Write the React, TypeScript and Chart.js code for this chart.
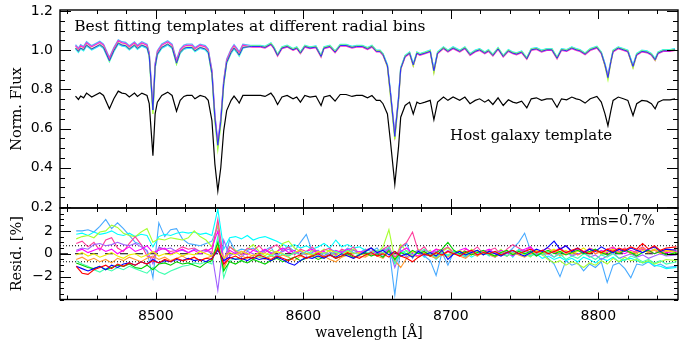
import React, { useEffect, useRef } from 'react';
import { Chart, registerables } from 'chart.js';
Chart.register(...registerables);

// ---------- top panel: spectra ----------
const wavelength = [
  8445.5, 8447.5, 8449, 8451, 8453, 8456.5, 8462, 8464.5, 8468.5, 8471.5,
  8474.5, 8477, 8479.5, 8482, 8485.5, 8487.5, 8490.5, 8494, 8495.5, 8498,
  8499.5, 8501, 8504, 8508, 8511, 8514, 8516.5, 8519, 8521, 8524.5,
  8526.5, 8530, 8533.5, 8535.5, 8538, 8540, 8542, 8544, 8546, 8548,
  8551, 8553, 8555, 8556.5, 8559, 8565, 8571, 8574, 8578, 8580,
  8582.5, 8585.5, 8589, 8593, 8595.5, 8598, 8601, 8604.5, 8608.5, 8612,
  8614, 8618, 8621.5, 8625, 8629, 8633, 8636, 8640, 8643.5, 8646.5,
  8649.5, 8652, 8654, 8657, 8659, 8662, 8664.5, 8666, 8669, 8672,
  8674.5, 8677, 8679, 8682.5, 8686, 8688.5, 8691, 8695, 8698, 8701.5,
  8706, 8709.5, 8713, 8716.5, 8719.5, 8723, 8725.5, 8728.5, 8732, 8735.5,
  8739, 8742, 8744.5, 8748, 8751.5, 8754.5, 8758, 8761.5, 8765, 8768.5,
  8772, 8775, 8778.5, 8782, 8785, 8787.5, 8791, 8794.5, 8799, 8802,
  8804.5, 8806.5, 8808.5, 8810, 8813.5, 8817, 8820, 8823.5, 8826, 8829.5,
  8833, 8836, 8838.5, 8840.5, 8844, 8848.5, 8852,
];

const hostTemplate = [
  0.766, 0.749, 0.766, 0.757, 0.781, 0.761, 0.783, 0.769, 0.701, 0.752,
  0.791, 0.781, 0.778, 0.761, 0.781, 0.764, 0.781, 0.769, 0.727, 0.462,
  0.675, 0.735, 0.769, 0.786, 0.769, 0.689, 0.744, 0.764, 0.769, 0.769,
  0.752, 0.769, 0.761, 0.744, 0.641, 0.420, 0.282, 0.400, 0.590, 0.692,
  0.744, 0.766, 0.747, 0.730, 0.769, 0.769, 0.769, 0.764, 0.781, 0.761,
  0.723, 0.761, 0.769, 0.752, 0.761, 0.735, 0.769, 0.761, 0.766, 0.718,
  0.761, 0.769, 0.740, 0.774, 0.774, 0.764, 0.769, 0.769, 0.757, 0.769,
  0.744, 0.744, 0.727, 0.675, 0.538, 0.316, 0.504, 0.658, 0.718, 0.735,
  0.675, 0.735, 0.727, 0.735, 0.744, 0.645, 0.735, 0.761, 0.744, 0.761,
  0.744, 0.761, 0.727, 0.744, 0.752, 0.735, 0.747, 0.723, 0.757, 0.718,
  0.747, 0.735, 0.730, 0.740, 0.706, 0.752, 0.757, 0.744, 0.752, 0.752,
  0.709, 0.752, 0.747, 0.761, 0.752, 0.747, 0.730, 0.752, 0.764, 0.735,
  0.675, 0.615, 0.692, 0.744, 0.761, 0.752, 0.744, 0.667, 0.727, 0.744,
  0.740, 0.727, 0.701, 0.735, 0.747, 0.747, 0.752,
];

const fitSkyBlue = [
  1.028, 1.011, 1.028, 1.019, 1.043, 1.023, 1.045, 1.031, 0.963, 1.014,
  1.053, 1.043, 1.040, 1.023, 1.043, 1.026, 1.043, 1.031, 0.989, 0.710,
  0.932, 0.997, 1.031, 1.048, 1.031, 0.951, 1.006, 1.026, 1.031, 1.031,
  1.014, 1.031, 1.023, 1.006, 0.899, 0.672, 0.530, 0.652, 0.847, 0.954,
  1.006, 1.028, 1.009, 0.992, 1.031, 1.023, 1.023, 1.018, 1.035, 1.015,
  0.977, 1.015, 1.023, 1.006, 1.015, 0.989, 1.023, 1.015, 1.020, 0.972,
  1.015, 1.023, 0.994, 1.028, 1.028, 1.018, 1.023, 1.023, 1.011, 1.023,
  0.998, 0.998, 0.981, 0.924, 0.789, 0.575, 0.754, 0.909, 0.972, 0.989,
  0.929, 0.989, 0.981, 0.989, 0.998, 0.899, 0.989, 1.015, 0.998, 1.015,
  0.998, 1.015, 0.981, 0.998, 1.006, 0.989, 1.001, 0.977, 1.011, 0.972,
  1.001, 0.989, 0.984, 0.994, 0.960, 1.006, 1.011, 0.998, 1.006, 1.006,
  0.963, 1.006, 1.001, 1.015, 1.006, 1.001, 0.984, 1.006, 1.018, 0.989,
  0.929, 0.875, 0.946, 0.998, 1.015, 1.006, 0.998, 0.921, 0.981, 0.998,
  0.994, 0.981, 0.955, 0.989, 1.001, 1.001, 1.006,
];

const fitMagenta = [
  1.022, 1.005, 1.022, 1.013, 1.037, 1.017, 1.039, 1.025, 0.957, 1.008,
  1.047, 1.037, 1.034, 1.017, 1.037, 1.020, 1.037, 1.025, 0.983, 0.700,
  0.926, 0.991, 1.025, 1.042, 1.025, 0.945, 1.000, 1.020, 1.025, 1.025,
  1.008, 1.025, 1.017, 1.000, 0.893, 0.666, 0.520, 0.646, 0.841, 0.948,
  1.000, 1.022, 1.003, 0.986, 1.025, 1.016, 1.016, 1.011, 1.028, 1.008,
  0.970, 1.008, 1.016, 0.999, 1.008, 0.982, 1.016, 1.008, 1.013, 0.965,
  1.008, 1.016, 0.987, 1.021, 1.021, 1.011, 1.016, 1.016, 1.004, 1.016,
  0.991, 0.991, 0.974, 0.917, 0.782, 0.565, 0.747, 0.902, 0.965, 0.982,
  0.922, 0.982, 0.974, 0.982, 0.991, 0.892, 0.982, 1.008, 0.991, 1.008,
  0.991, 1.008, 0.974, 0.991, 0.999, 0.982, 0.994, 0.970, 1.004, 0.965,
  0.994, 0.982, 0.977, 0.987, 0.953, 0.999, 1.004, 0.991, 0.999, 0.999,
  0.956, 0.999, 0.994, 1.008, 0.999, 0.994, 0.977, 0.999, 1.011, 0.982,
  0.922, 0.865, 0.939, 0.991, 1.008, 0.999, 0.991, 0.914, 0.974, 0.991,
  0.987, 0.974, 0.948, 0.982, 0.994, 0.994, 0.999,
];

const fitYellowGreen = [
  1.012, 0.995, 1.012, 1.003, 1.027, 1.007, 1.029, 1.015, 0.945, 0.998,
  1.037, 1.027, 1.024, 1.007, 1.027, 1.010, 1.027, 1.015, 0.973, 0.675,
  0.910, 0.981, 1.015, 1.032, 1.015, 0.930, 0.990, 1.010, 1.015, 1.015,
  0.998, 1.015, 1.007, 0.990, 0.875, 0.640, 0.495, 0.620, 0.825, 0.936,
  0.990, 1.012, 0.993, 0.976, 1.015, 1.021, 1.021, 1.016, 1.033, 1.013,
  0.975, 1.013, 1.021, 1.004, 1.013, 0.987, 1.021, 1.013, 1.018, 0.970,
  1.013, 1.021, 0.992, 1.026, 1.026, 1.016, 1.021, 1.021, 1.009, 1.021,
  0.996, 0.996, 0.979, 0.915, 0.770, 0.545, 0.740, 0.905, 0.970, 0.987,
  0.920, 0.987, 0.979, 0.987, 0.996, 0.885, 0.987, 1.013, 0.996, 1.013,
  0.996, 1.013, 0.979, 0.996, 1.004, 0.987, 0.999, 0.975, 1.009, 0.970,
  0.999, 0.987, 0.982, 0.992, 0.958, 1.004, 1.009, 0.996, 1.004, 1.004,
  0.961, 1.004, 0.999, 1.013, 1.004, 0.999, 0.982, 1.004, 1.016, 0.987,
  0.920, 0.850, 0.940, 0.996, 1.013, 1.004, 0.996, 0.910, 0.979, 0.996,
  0.992, 0.979, 0.950, 0.987, 0.999, 0.999, 1.004,
];

const fitCyan = [
  1.006, 0.989, 1.006, 0.997, 1.021, 1.001, 1.023, 1.009, 0.941, 0.992,
  1.031, 1.021, 1.018, 1.001, 1.021, 1.004, 1.021, 1.009, 0.967, 0.690,
  0.910, 0.975, 1.009, 1.026, 1.009, 0.929, 0.984, 1.004, 1.009, 1.009,
  0.992, 1.009, 1.001, 0.984, 0.877, 0.650, 0.510, 0.630, 0.825, 0.932,
  0.984, 1.006, 0.987, 0.970, 1.009, 1.025, 1.025, 1.020, 1.037, 1.017,
  0.979, 1.017, 1.025, 1.008, 1.017, 0.991, 1.025, 1.017, 1.022, 0.974,
  1.017, 1.025, 0.996, 1.030, 1.030, 1.020, 1.025, 1.025, 1.013, 1.025,
  1.000, 1.000, 0.983, 0.926, 0.791, 0.560, 0.756, 0.911, 0.974, 0.991,
  0.931, 0.991, 0.983, 0.991, 1.000, 0.901, 0.991, 1.017, 1.000, 1.017,
  1.000, 1.017, 0.983, 1.000, 1.008, 0.991, 1.003, 0.979, 1.013, 0.974,
  1.003, 0.991, 0.986, 0.996, 0.962, 1.008, 1.013, 1.000, 1.008, 1.008,
  0.965, 1.008, 1.003, 1.017, 1.008, 1.003, 0.986, 1.008, 1.020, 0.991,
  0.931, 0.865, 0.948, 1.000, 1.017, 1.008, 1.000, 0.923, 0.983, 1.000,
  0.996, 0.983, 0.957, 0.991, 1.003, 1.003, 1.008,
];

const fitBlue = [
  1.011, 0.994, 1.011, 1.002, 1.026, 1.006, 1.028, 1.014, 0.946, 0.997,
  1.036, 1.026, 1.023, 1.006, 1.026, 1.009, 1.026, 1.014, 0.972, 0.695,
  0.915, 0.980, 1.014, 1.031, 1.014, 0.934, 0.989, 1.009, 1.014, 1.014,
  0.997, 1.014, 1.006, 0.989, 0.882, 0.655, 0.515, 0.635, 0.830, 0.937,
  0.989, 1.011, 0.992, 0.975, 1.014, 1.019, 1.019, 1.014, 1.031, 1.011,
  0.973, 1.011, 1.019, 1.002, 1.011, 0.985, 1.019, 1.011, 1.016, 0.968,
  1.011, 1.019, 0.990, 1.024, 1.024, 1.014, 1.019, 1.019, 1.007, 1.019,
  0.994, 0.994, 0.977, 0.920, 0.785, 0.560, 0.750, 0.905, 0.968, 0.985,
  0.925, 0.985, 0.977, 0.985, 0.994, 0.895, 0.985, 1.011, 0.994, 1.011,
  0.994, 1.011, 0.977, 0.994, 1.002, 0.985, 0.997, 0.973, 1.007, 0.968,
  0.997, 0.985, 0.980, 0.990, 0.956, 1.002, 1.007, 0.994, 1.002, 1.002,
  0.959, 1.002, 0.997, 1.011, 1.002, 0.997, 0.980, 1.002, 1.014, 0.985,
  0.925, 0.860, 0.942, 0.994, 1.011, 1.002, 0.994, 0.917, 0.977, 0.994,
  0.990, 0.977, 0.951, 0.985, 0.997, 0.997, 1.002,
];

// ---------- bottom panel: residuals [%] ----------
const residWave = [
  8446, 8450, 8454, 8458, 8462, 8466, 8470, 8474, 8478, 8482,
  8486, 8490, 8494, 8498, 8502, 8506, 8510, 8514, 8518, 8522,
  8526, 8530, 8534, 8538, 8542, 8546, 8550, 8554, 8558, 8562,
  8566, 8570, 8574, 8578, 8582, 8586, 8590, 8594, 8598, 8602,
  8606, 8610, 8614, 8618, 8622, 8626, 8630, 8634, 8638, 8642,
  8646, 8650, 8654, 8658, 8662, 8666, 8670, 8674, 8678, 8682,
  8686, 8690, 8694, 8698, 8702, 8706, 8710, 8714, 8718, 8722,
  8726, 8730, 8734, 8738, 8742, 8746, 8750, 8754, 8758, 8762,
  8766, 8770, 8774, 8778, 8782, 8786, 8790, 8794, 8798, 8802,
  8806, 8810, 8814, 8818, 8822, 8826, 8830, 8834, 8838, 8842,
  8846, 8853,
];

const residRed = [
  -1.1, -1.7, -1.8, -1.4, -1.2, -1.0, -1.3, -0.9, -1.1, -0.8,
  -1.0, -0.7, -0.9, -0.6, -0.8, -0.5, -0.7, -0.4, -0.6, -0.5,
  -0.3, -0.6, -0.4, -0.5, 0.5, -0.9, -0.4, -0.2, -0.5, -0.3,
  -0.4, -0.1, -0.3, -0.5, -0.2, -0.4, -0.6, -0.3, -0.1, -0.4,
  -0.2, 0.0, -0.3, -0.1, -0.4, -0.2, 0.1, -0.2, -0.4, -0.1,
  0.1, -0.2, 0.0, -0.3, 0.2, -0.2, -0.4, -0.7, -0.3, 0.0,
  -0.2, 0.1, -0.1, 0.2, 0.0, -0.2, 0.1, 0.3, -0.1, 0.1,
  0.0, 0.2, -0.1, 0.1, 0.3, 0.0, 0.2, 0.4, 0.1, 0.3,
  0.0, 0.2, 0.4, 0.1, 0.3, 0.5, 0.2, 0.0, 0.3, 0.1,
  0.4, 0.2, 0.5, 0.3, 0.6, 0.4, 0.9, 0.4, 0.7, 0.3,
  0.5, 0.6,
];
const residBlue = [
  -1.1, -1.3, -1.5, -1.3, -1.1, -1.4, -1.0, -1.2, -0.9, -0.8,
  -1.0, -0.7, -0.9, -0.5, -0.8, -0.6, -0.7, -0.5, -0.6, -0.4,
  -0.6, -0.5, -0.7, -0.4, 0.3, -0.6, -0.3, -0.5, -0.4, -0.6,
  -0.3, -0.5, -0.4, -0.6, -0.3, -0.5, -0.8, -1.0, -0.6, -0.3,
  -0.4, -0.2, -0.4, -0.1, -0.3, 0.0, -0.2, -0.4, -0.1, 0.2,
  0.5, 0.1, 0.3, -0.1, 0.2, -0.2, 0.0, -0.3, 0.2, -0.1,
  0.1, -0.2, 0.3, -0.5, 0.0, 0.2, -0.1, 0.1, 0.3, -0.1,
  0.2, 0.0, -0.2, 0.1, 0.3, 0.0, -0.2, 0.1, 0.4, 0.2,
  0.6, 1.1, 0.4, 0.7, 0.2, 0.5, 0.1, 0.4, 0.2, 0.6,
  0.3, 0.1, 0.4, 0.2, 0.5, 0.3, 0.1, 0.4, 0.6, 0.2,
  0.4, 0.3,
];
const residGreen = [
  -0.8, -1.0, -1.2, -1.3, -1.1, -1.4, -1.2, -1.0, -1.1, -0.9,
  -1.2, -1.3, -1.0, -1.4, -0.9, -0.8, -1.0, -0.7, -0.9, -0.8,
  -1.0, -1.2, -0.8, -0.6, 1.0, -1.5, -0.7, -0.9, -0.6, -0.8,
  -0.5, -0.7, -0.9, -0.6, -0.4, -0.7, -0.5, -0.3, -0.6, -0.4,
  -0.2, -0.5, -0.3, -0.1, -0.4, -0.2, 0.0, -0.3, -0.1, 0.1,
  -0.2, 0.0, -0.3, 0.3, -0.5, 0.1, -0.1, 0.3, 0.0, 0.2,
  -0.2, 0.1, 0.4, 1.0, 0.3, 0.0, 0.2, -0.1, 0.1, 0.3,
  0.0, -0.2, 0.1, 0.3, -0.1, 0.2, 0.0, 0.2, -0.2, 0.1,
  0.3, 0.0, 0.2, -0.1, 0.1, 0.3, 0.0, 0.2, 0.4, 0.1,
  -0.1, 0.2, 0.0, 0.3, 0.1, -0.2, 0.1, 0.3, 0.0, 0.2,
  -0.1, 0.1,
];
const residMint = [
  -0.6, -0.9, -1.1, -1.4, -1.6, -1.3, -1.5, -1.2, -1.4, -1.1,
  -1.3, -1.5, -1.7, -1.2, -1.6, -1.8, -1.5, -1.3, -1.1, -1.0,
  -0.8, -0.9, -0.7, -0.9, 1.5, -2.1, -0.6, -0.4, -0.6, -0.3,
  -0.5, -0.2, -0.4, -0.1, -0.3, 0.0, -0.2, 0.1, -0.1, 0.2,
  0.0, -0.2, 0.1, -0.1, 0.2, 0.0, 0.3, 0.1, -0.1, 0.2,
  0.0, 0.3, 0.1, 0.6, -0.9, 0.0, 0.3, -0.1, 0.1, 0.4,
  0.0, -0.3, 0.1, -0.1, 0.2, 0.0, -0.2, 0.1, 0.3, 0.0,
  -0.1, 0.2, 0.0, -0.2, 0.1, 0.3, 0.0, -0.2, 0.1, -0.1,
  0.2, -0.3, 0.0, -0.5, -0.2, -0.4, 0.0, -0.2, -0.5, -0.1,
  -0.3, 0.0, -0.4, -0.6, -0.2, -0.4, -0.7, -0.5, -0.8, -0.6,
  -0.9, -0.7,
];
const residOrange = [
  -0.5, -0.3, -0.6, -0.4, -0.7, -0.5, -0.8, -0.4, -0.6, -0.3,
  -0.5, -0.7, -0.4, -0.2, -0.5, -0.3, -0.6, -0.4, -0.2, -0.5,
  -0.3, -0.6, -0.4, -0.2, 0.8, -1.2, -0.3, -0.5, -0.2, -0.4,
  -0.1, -0.3, -0.5, -0.2, -0.4, -0.1, -0.3, -0.6, -0.2, -0.4,
  -0.1, -0.3, -0.2, -0.5, -0.7, -0.3, -0.1, -0.4, -0.2, -0.3,
  0.0, -0.2, -0.4, 0.2, -0.6, -1.2, -0.4, -0.1, -0.3, 0.0,
  -0.2, -0.4, -0.1, -0.3, 0.1, -0.2, -0.4, 0.0, -0.2, 0.2,
  -0.1, -0.3, 0.0, -0.2, 0.1, -0.1, -0.3, 0.0, 0.2, -0.1,
  0.1, 0.3, -0.2, 0.0, 0.2, -0.1, 0.1, 0.4, 0.0, 0.2,
  -0.1, 0.3, 0.1, 0.4, 0.0, 0.2, 0.5, 0.1, 0.3, 0.0,
  0.2, 0.4,
];
const residYellow = [
  -0.1, 0.1, -0.2, 0.0, -0.3, -0.1, 0.1, -0.2, -0.4, -0.1,
  0.0, -0.3, -0.1, 0.2, -0.2, 0.0, -0.1, 0.1, -0.2, 0.0,
  -0.1, 0.2, 0.0, -0.2, 0.6, -0.4, 0.1, -0.1, 0.2, 0.0,
  -0.2, 0.1, 0.0, -0.1, 0.2, 0.0, -0.2, 0.1, 0.3, 0.0,
  -0.1, 0.2, 0.0, 0.3, 0.1, -0.1, 0.2, 0.0, 0.1, -0.2,
  0.1, 0.3, 0.0, 0.2, -0.4, 0.1, -0.1, 0.2, 0.0, 0.1,
  -0.2, 0.0, 0.2, -0.1, 0.1, 0.3, 0.0, -0.1, 0.2, 0.0,
  0.1, -0.2, 0.1, 0.3, 0.0, 0.2, -0.1, 0.1, 0.3, 0.0,
  0.2, 0.4, 0.1, 0.3, 0.0, 0.2, 0.5, 0.1, 0.3, 0.0,
  0.2, 0.4, 0.1, 0.3, 0.2, 0.0, 0.3, 0.1, 0.4, 0.2,
  0.3, 0.1,
];
const residMagenta = [
  0.2, 0.4, 0.1, 0.3, 0.5, 0.2, 0.4, 0.0, 0.3, 0.6,
  0.2, 0.4, 0.7, 0.1, 0.3, 0.5, 0.0, 0.2, 0.4, 0.1,
  0.3, 0.0, 0.2, 0.5, 2.0, -1.0, 0.3, 0.0, 0.2, -0.1,
  0.3, 0.1, 0.4, 0.0, 0.2, 0.5, 0.1, 0.3, -0.1, 0.2,
  0.4, 0.0, 0.2, -0.2, 0.3, 0.1, 0.4, 0.0, 0.2, 0.1,
  -0.1, 0.3, 0.0, 0.4, -0.3, 0.2, 0.5, 0.0, -0.2, 0.3,
  0.1, 0.4, -0.1, 0.2, 0.0, 0.3, 0.5, 0.1, -0.1, 0.2,
  0.4, 0.0, 0.3, 0.1, -0.2, 0.2, 0.4, 0.6, 0.1, 0.3,
  0.0, 0.2, 0.5, 0.1, 0.3, -0.1, 0.2, 0.4, 0.0, 0.3,
  0.1, 0.5, 0.2, 0.0, 0.3, 0.1, 0.4, 0.2, 0.0, 0.3,
  0.1, 0.2,
];
const residViolet = [
  0.3, 0.5, 0.4, 0.8, 0.9, 0.7, 0.8, 1.0, 0.8, 0.7,
  0.9, 0.6, 0.3, -0.9, 0.6, 0.4, 0.5, 0.2, 0.3, 0.1,
  0.4, 0.2, 0.3, 0.0, -3.2, 1.2, -0.2, 0.1, -0.3, 0.2,
  0.0, -0.2, 0.3, 0.1, -0.1, 0.2, 0.4, 0.0, 0.2, -0.1,
  0.1, 0.3, -0.2, 0.1, 0.0, 0.2, -0.1, 0.3, 0.1, -0.2,
  0.2, 0.0, 0.3, 0.5, -1.2, 0.2, -0.3, 0.1, 0.3, -0.2,
  0.0, 0.2, -0.1, 0.3, 0.0, 0.2, -0.2, 0.1, 0.3, -0.1,
  0.2, 0.0, 0.1, -0.2, 0.2, 0.0, 0.3, 0.1, -0.1, 0.2,
  0.0, -0.3, 0.1, 0.2, -0.2, 0.0, 0.1, -0.3, -0.1, -0.5,
  -0.2, 0.1, -0.4, -0.2, 0.0, -0.3, -0.1, -0.4, -0.2, 0.0,
  -0.2, -0.1,
];
const residHotPink = [
  0.9, 1.1, 0.6, 1.0, 0.3, 1.2, 1.4, 0.5, 0.2, 0.9,
  1.5, 0.8, -0.2, -0.4, 0.5, 0.4, 0.2, 0.3, 0.6, 0.4,
  0.5, 0.2, 0.4, 0.1, 3.0, -0.5, 0.6, 0.2, -0.1, 0.5,
  0.3, 0.7, 0.1, 0.5, 0.8, 0.2, 0.6, -0.1, 0.4, 0.2,
  0.6, 0.1, 0.3, 0.5, -0.1, 0.4, 0.2, 0.6, 0.0, 0.3,
  0.5, -0.2, 0.4, 0.7, -0.6, 0.6, 1.0, 1.9, 0.2, 0.6,
  -0.1, 0.4, 0.3, 0.6, 0.1, -0.2, 0.4, 0.2, 0.6, 0.0,
  0.3, 0.5, -0.1, 0.4, 0.8, 0.5, 0.2, 0.6, 0.0, 0.3,
  0.5, 0.1, 0.4, 0.7, 0.2, 0.4, 0.0, 0.5, 0.3, 0.1,
  0.4, 0.6, 0.2, 0.5, 0.0, 0.3, 0.6, 0.2, 0.4, 0.1,
  0.3, 0.2,
];
const residYellowGreen = [
  1.3, 1.5, 1.6, 1.4, 1.9, 2.0, 2.5, 2.3, 1.8, 1.6,
  1.5, 1.9, 2.2, 1.0, 1.3, 1.2, 1.4, 1.3, 1.2, 1.4,
  2.0, 1.5, 1.2, 0.6, 2.6, -1.5, 0.6, 0.3, 0.0, 0.4,
  0.8, 0.2, -0.2, 0.3, 0.1, 0.9, 1.1, 0.5, 0.2, -0.1,
  0.3, 0.0, 0.4, 0.2, -0.2, 0.3, 0.1, 0.4, 0.0, 0.2,
  0.5, 0.1, 0.6, 2.1, -0.5, 0.8, 0.2, -0.3, 0.4, 0.0,
  0.3, -0.4, 0.2, 0.5, 0.0, 0.3, -0.2, 0.4, 0.1, -0.1,
  0.3, 0.0, 0.4, -0.2, 0.1, 0.3, 0.0, -0.3, 0.2, -0.1,
  -0.5, -0.8, -0.6, -1.0, -0.7, -0.9, -1.2, -0.8, -1.0, -0.6,
  -0.9, -0.4, -0.7, -0.3, -0.6, -0.5, -0.8, -0.6, -0.9, -0.7,
  -0.5, -0.6,
];
const residCyan = [
  1.7, 1.8, 1.6, 1.9, 1.7, 1.8, 2.0, 1.7, 1.6, 1.8,
  1.5, 1.7, 1.6, 0.6, 1.5, 1.7, 1.6, 1.8, 1.9, 1.8,
  1.9, 1.7, 1.8, 1.6, 3.9, 0.4, 1.4, 1.5, 1.3, 1.6,
  1.2, 1.4, 1.5, 1.3, 1.1, 0.8, 0.6, 0.8, 0.5, 0.7,
  0.4, 0.6, 0.9, 0.5, 1.2, 0.6, 0.8, 0.5, 0.6, 0.3,
  0.5, 0.2, 0.4, 0.1, -0.8, 0.3, 0.0, -0.2, 0.2, -0.3,
  0.1, -0.5, 0.0, -0.2, 0.2, -0.1, 0.1, -0.3, 0.0, 0.2,
  -0.2, 0.1, -0.1, 0.2, -0.3, 0.4, 0.1, -0.2, 0.0, -0.4,
  -0.2, -0.5, -0.3, -0.6, -0.4, -0.7, -0.3, -0.5, -0.8, -0.4,
  -0.6, -0.3, -0.7, -0.5, -0.4, -0.6, -0.8, -0.7, -1.0, -1.1,
  -1.3, -1.2,
];
const residSkyBlue = [
  2.0, 2.0, 2.1, 1.9, 2.4, 3.0, 2.2, 2.7, 2.2, 1.6,
  1.0, 0.8, 0.2, -2.1, 2.7, 1.5, 2.1, 2.2, 1.3, 0.9,
  0.8, 0.7, 0.9, 1.1, 2.4, -0.8, 1.2, 0.2, 0.4, 0.3,
  0.5, 0.1, 0.3, 0.6, -0.3, 0.4, 0.6, 0.2, 1.0, 1.7,
  0.2, 0.3, -0.2, 0.4, 0.2, 0.1, 0.5, 0.3, 0.1, 0.4,
  0.2, 0.5, -0.3, 0.6, -3.6, 0.5, 0.9, -0.4, 0.3, -0.2,
  -0.6, -1.9, 0.1, -1.0, 0.2, 0.0, -0.3, 0.3, -0.2, 0.2,
  0.0, -0.3, 0.3, 0.0, 0.5, 1.0, 1.8, 0.3, -0.2, 0.1,
  -0.4, -0.9, -2.0, -0.6, -1.0, -0.8, -1.5, -0.9, -1.2, -0.7,
  -2.5, -1.0, -0.8, -1.3, -2.1, -0.9, -1.0, -0.7, -1.1, -0.9,
  -1.2, -1.1,
];

const rmsLevel = 0.7;

// ---------- axes ----------
const xRange = [8435, 8854];
const fluxRange = [0.195, 1.205];
const residRange = [-4, 4];
const xTickLabels = [8500, 8600, 8700, 8800];
const xMinorTicks = [8440, 8460, 8480, 8500, 8520, 8540, 8560, 8580, 8600, 8620, 8640, 8660, 8680, 8700, 8720, 8740, 8760, 8780, 8800, 8820, 8840];
const fluxTickLabels = [0.2, 0.4, 0.6, 0.8, 1.0, 1.2];
const fluxMinorTicks = [0.2, 0.25, 0.3, 0.35, 0.4, 0.45, 0.5, 0.55, 0.6, 0.65, 0.7, 0.75, 0.8, 0.85, 0.9, 0.95, 1.0, 1.05, 1.1, 1.15, 1.2];
const residTickLabels = [-2, 0, 2];
const residMinorTicks = [-4, -3.5, -3, -2.5, -2, -1.5, -1, -0.5, 0, 0.5, 1, 1.5, 2, 2.5, 3, 3.5, 4];

const SERIF = '"DejaVu Serif", serif';
const SANS = '"DejaVu Sans", sans-serif';

const pts = (xs: number[], ys: number[]) => xs.map((x, i) => ({ x, y: ys[i] }));

const decor = {
  id: 'panelDecor',
  afterDraw(chart: any, _a: any, o: any) {
    const { ctx, chartArea: a, scales } = chart;
    const xs = scales.x, ys = scales.y;
    ctx.save();
    ctx.strokeStyle = '#000';
    ctx.lineWidth = 1;
    ctx.beginPath();
    for (const v of o.xMinor) {
      const px = Math.round(xs.getPixelForValue(v)) + 0.5;
      const len = o.xMajor.includes(v) ? o.xMajorLen : o.xMinorLen;
      ctx.moveTo(px, a.bottom); ctx.lineTo(px, a.bottom - len);
      ctx.moveTo(px, a.top); ctx.lineTo(px, a.top + len);
    }
    for (const v of o.yMinor) {
      const py = Math.round(ys.getPixelForValue(v)) + 0.5;
      const len = o.yMajor.includes(v) ? o.yMajorLen : o.yMinorLen;
      ctx.moveTo(a.left, py); ctx.lineTo(a.left + len, py);
      ctx.moveTo(a.right, py); ctx.lineTo(a.right - len, py);
    }
    ctx.stroke();
    ctx.lineWidth = 1.4;
    ctx.strokeRect(a.left, a.top, a.right - a.left, a.bottom - a.top);
    ctx.fillStyle = '#000';
    ctx.textBaseline = 'alphabetic';
    for (const t of o.texts) {
      ctx.font = t.font;
      ctx.textAlign = t.align;
      ctx.fillText(t.text, xs.getPixelForValue(t.x), ys.getPixelForValue(t.y));
    }
    ctx.restore();
  },
};

const line = (label: string, xs: number[], ys: number[], color: string, width: number, extra: any = {}) => ({
  label, data: pts(xs, ys), borderColor: color, borderWidth: width, pointRadius: 0, tension: 0, fill: false, ...extra,
});

const fixY = (s: any) => { s.width = 60; s.paddingTop = 0; s.paddingBottom = 0; };
const fixX = (s: any) => { s.height = 40.5; s.paddingLeft = 0; s.paddingRight = 0; };
const noGrid = { display: false, drawTicks: false, tickLength: 0 };

function topConfig(): any {
  return {
    type: 'line',
    data: {
      datasets: [
        line('bin blue', wavelength, fitBlue, '#2a2aff', 1.0),
        line('bin yellow-green', wavelength, fitYellowGreen, '#a8ff30', 1.3),
        line('bin magenta', wavelength, fitMagenta, '#ff2ad0', 1.3),
        line('bin cyan', wavelength, fitCyan, '#30f4ff', 1.3),
        line('bin sky', wavelength, fitSkyBlue, '#55b4ff', 1.3),
        line('Host galaxy template', wavelength, hostTemplate, '#000000', 1.2),
      ],
    },
    options: {
      animation: false,
      responsive: false,
      layout: { padding: { left: 0, top: 10, right: 8, bottom: 132 } },
      plugins: {
        legend: { display: false },
        tooltip: { enabled: false },
        panelDecor: {
          xMinor: xMinorTicks, xMajor: xTickLabels, xMajorLen: 9, xMinorLen: 4,
          yMinor: fluxMinorTicks, yMajor: fluxTickLabels, yMajorLen: 11, yMinorLen: 5,
          texts: [
            { text: 'Best fitting templates at different radial bins', x: 8444.6, y: 1.099, align: 'left', font: `15.5px ${SERIF}` },
            { text: 'Host galaxy template', x: 8699.5, y: 0.542, align: 'left', font: `15px ${SERIF}` },
          ],
        },
      },
      scales: {
        x: { type: 'linear', display: false, min: xRange[0], max: xRange[1] },
        y: {
          type: 'linear', min: fluxRange[0], max: fluxRange[1],
          afterFit: fixY,
          afterBuildTicks: (s: any) => { s.ticks = fluxTickLabels.map((value) => ({ value })); },
          grid: noGrid, border: { display: false },
          ticks: { padding: 7, color: '#000', font: { family: SANS, size: 14 }, callback: (v: any) => Number(v).toFixed(1) },
          title: { display: true, text: 'Norm. Flux', color: '#000', font: { family: SERIF, size: 14.5 }, padding: { top: 9, bottom: 0 } },
        },
      },
    },
    plugins: [decor],
  };
}

function botConfig(): any {
  const edges = [xRange[0], xRange[1]];
  return {
    type: 'line',
    data: {
      datasets: [
        line('red', residWave, residRed, '#ff0000', 1.1),
        line('blue', residWave, residBlue, '#0000ff', 1.1),
        line('green', residWave, residGreen, '#00d000', 1.1),
        line('mint', residWave, residMint, '#40ffb0', 1.1),
        line('orange', residWave, residOrange, '#ff9a30', 1.1),
        line('yellow', residWave, residYellow, '#eeee00', 1.1),
        line('magenta', residWave, residMagenta, '#ff00ff', 1.1),
        line('violet', residWave, residViolet, '#a060ff', 1.1),
        line('hot pink', residWave, residHotPink, '#ff3c9c', 1.1),
        line('yellow-green', residWave, residYellowGreen, '#a8ff30', 1.1),
        line('cyan', residWave, residCyan, '#00ffff', 1.1),
        line('sky', residWave, residSkyBlue, '#48aaff', 1.1),
        line('zero', edges, [0, 0], '#000000', 1, { borderDash: [8, 7] }),
        line('+rms', edges, [rmsLevel, rmsLevel], '#000000', 1, { borderDash: [1, 2] }),
        line('-rms', edges, [-rmsLevel, -rmsLevel], '#000000', 1, { borderDash: [1, 2] }),
      ],
    },
    options: {
      animation: false,
      responsive: false,
      layout: { padding: { left: 0, top: 208, right: 8, bottom: 0 } },
      plugins: {
        legend: { display: false },
        tooltip: { enabled: false },
        panelDecor: {
          xMinor: xMinorTicks, xMajor: xTickLabels, xMajorLen: 7, xMinorLen: 4,
          yMinor: residMinorTicks, yMajor: residTickLabels, yMajorLen: 11, yMinorLen: 4,
          texts: [
            { text: `rms=${rmsLevel}%`, x: 8838.3, y: 2.49, align: 'right', font: `14px ${SERIF}` },
          ],
        },
      },
      scales: {
        x: {
          type: 'linear', position: 'bottom', min: xRange[0], max: xRange[1],
          afterFit: fixX,
          afterBuildTicks: (s: any) => { s.ticks = xTickLabels.map((value) => ({ value })); },
          grid: noGrid, border: { display: false },
          ticks: { padding: 8, color: '#000', maxRotation: 0, font: { family: SANS, size: 14 }, callback: (v: any) => String(v) },
          title: { display: true, text: 'wavelength [Å]', color: '#000', font: { family: SERIF, size: 14, lineHeight: 0.95 }, padding: { top: 0, bottom: 0 } },
        },
        y: {
          type: 'linear', min: residRange[0], max: residRange[1],
          afterFit: fixY,
          afterBuildTicks: (s: any) => { s.ticks = residTickLabels.map((value) => ({ value })); },
          grid: noGrid, border: { display: false },
          ticks: { padding: 7, color: '#000', font: { family: SANS, size: 14 }, callback: (v: any) => (Number(v) < 0 ? '\u2212' + Math.abs(Number(v)) : String(v)) },
          title: { display: true, text: 'Resid. [%]', color: '#000', font: { family: SERIF, size: 14.5 }, padding: { top: 9, bottom: 0 } },
        },
      },
    },
    plugins: [decor],
  };
}

export default function App() {
  const topRef = useRef<HTMLCanvasElement>(null);
  const botRef = useRef<HTMLCanvasElement>(null);
  useEffect(() => {
    const top = new Chart(topRef.current as HTMLCanvasElement, topConfig());
    const bot = new Chart(botRef.current as HTMLCanvasElement, botConfig());
    return () => { top.destroy(); bot.destroy(); };
  }, []);
  return (
    <div style={{ position: 'absolute', left: 0, top: 0, width: 686, height: 340, background: '#fff' }}>
      <canvas ref={topRef} width={686} height={340} style={{ position: 'absolute', left: 0, top: 0 }} />
      <canvas ref={botRef} width={686} height={340} style={{ position: 'absolute', left: 0, top: 0 }} />
    </div>
  );
}
